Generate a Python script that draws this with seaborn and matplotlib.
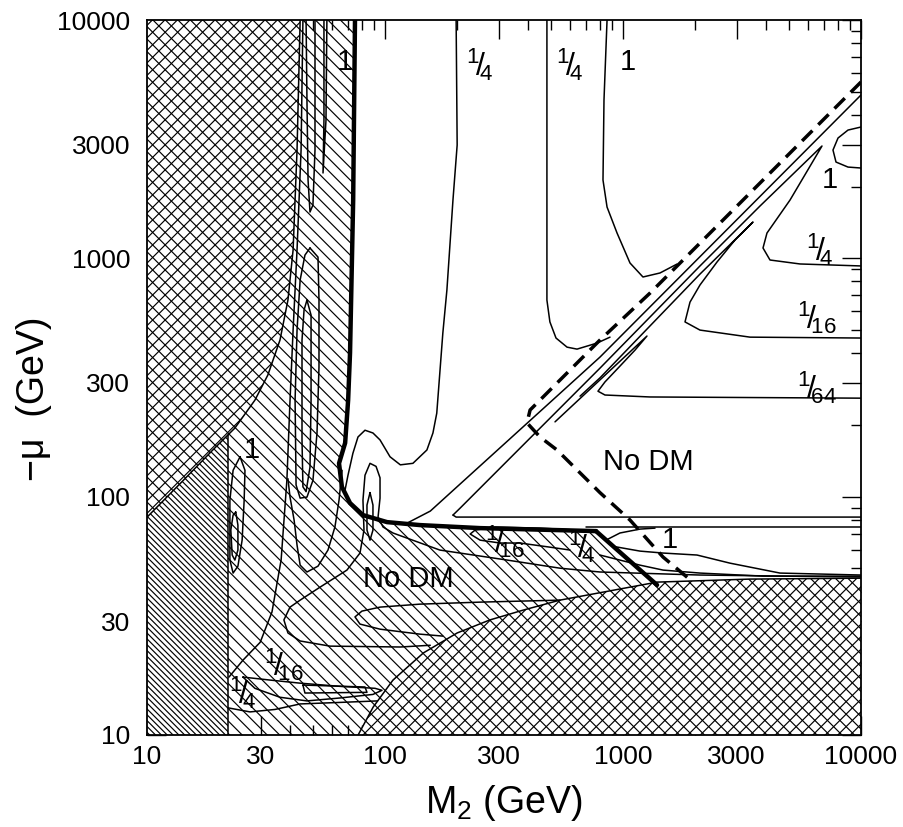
import numpy as np
import matplotlib
matplotlib.use("Agg")
import matplotlib.pyplot as plt
import seaborn as sns
from matplotlib.patches import Polygon
from matplotlib.collections import LineCollection
from matplotlib.ticker import FixedLocator, FixedFormatter, NullFormatter

# ------------------------------------------------------------------ data (GeV)
tick_values = [10, 30, 100, 300, 1000, 3000, 10000]
tick_labels = ["10", "30", "100", "300", "1000", "3000", "10000"]

# excluded (cross-hatched) regions
lep_ul_m2 = [44.0, 42.7, 41.1, 39.1, 36.2, 32.2, 28.4, 23.4, 18.9, 14.2, 10.0]
lep_ul_mu = [10000, 2847, 1084, 668, 454, 324, 254, 194, 157, 117, 82]
lep_lr_m2 = [77.1, 89.2, 108, 145, 201, 276, 380, 543, 1390, 3420, 10000]
lep_lr_mu = [10, 13.1, 17.0, 22.1, 26.8, 30.4, 33.4, 36.8, 43.8, 45.1, 45.5]
dense_m2 = [10, 21.9, 21.9, 18.9, 14.2, 10]
dense_mu = [10, 10, 182, 157, 117, 82]

# "No DM" boundary (thick)
nodm_m2 = [74.8, 73.5, 71.3, 70.0, 68.0, 64.1, 65.9, 71.3, 80.8, 102, 140, 251, 770]
nodm_mu = [10000, 1756, 401, 254, 168, 138, 110, 94.0, 83.7, 78.2, 76.0, 73.8, 71.7]
nodm_diag_m2 = [770, 1390]
nodm_diag_mu = [71.7, 42.6]

# dashed curve
dash_m2 = [10000, 1299, 800, 407, 395, 448, 528, 800, 1070, 1473, 1968]
dash_mu = [5494, 715, 454, 231, 204, 178, 157, 104, 79.8, 55.8, 43.8]

# contours in the allowed region
c_a14_m2 = [199, 201, 193, 182, 175, 165, 159, 150, 131, 116, 105, 95.3, 89.0, 82.4, 77.0, 73.3, 69.9, 68.0]
c_a14_mu = [10000, 2989, 1756, 736, 486, 224, 185, 157, 138, 136, 147, 173, 185, 190, 178, 152, 123, 107]
c_b14_m2 = [479, 479, 493, 523, 582, 641, 778, 882]
c_b14_mu = [10000, 668, 541, 463, 424, 416, 441, 467]
c_c1_m2 = [857, 832, 824, 857, 944, 1070, 1213, 1430, 1686]
c_c1_mu = [10000, 4615, 2131, 1641, 1277, 956, 835, 868, 946]
diag_m2 = [124, 155, 800, 10000]
diag_mu = [77.5, 87.0, 385, 4845]
w14_m2 = [193, 207, 800, 2106, 3765, 6856, 5032, 4027, 3875, 4146, 5543, 10000]
w14_mu = [83.7, 89.6, 346, 929, 1658, 2960, 1756, 1277, 1105, 984, 947, 929]
tri_m2 = [193, 199, 228, 10000]
tri_mu = [83.7, 82.1, 82.1, 82.1]
w16_m2 = [660, 800, 2106, 3517, 2956, 2483, 2106, 1912, 1822, 2106, 3418, 10000]
w16_mu = [264, 315, 859, 1420, 1194, 965, 773, 655, 541, 500, 467, 463]
w64_m2 = [518, 1261, 1123, 971, 840, 785, 840, 1299, 10000]
w64_mu = [206, 472, 412, 353, 303, 277, 267, 262, 259]
loop1_m2 = [10000, 8819, 8006, 7626, 7852, 8819, 10000]
loop1_mu = [3556, 3453, 3197, 2847, 2535, 2415, 2393]

# contours in the hatched region
u1_m2 = [46.6, 47.0, 47.5, 48.4, 49.8, 50.8, 50.8]
u1_mu = [10000, 4615, 2131, 1564, 1674, 2847, 10000]
u2_m2 = [55.4, 55.4, 54.9, 56.5, 57.0]
u2_mu = [10000, 3802, 2281, 3802, 10000]
la_m2 = [48.4, 52.3, 52.8, 52.8, 51.8, 49.8, 47.0, 44.0, 42.3, 41.9, 42.7, 44.0, 46.1, 48.4]
la_mu = [1105, 1012, 668, 350, 185, 117, 99.6, 98.6, 112, 254, 500, 811, 1032, 1105]
lb_m2 = [47.0, 48.9, 48.9, 48.4, 46.6, 45.2, 44.8, 44.8, 45.7, 47.0]
lb_mu = [668, 578, 254, 133, 105, 110, 173, 454, 607, 668]
s_m2 = [45.2, 44.4, 42.7, 41.1, 39.9, 38.7, 36.6, 33.5, 29.9, 25.3, 22.1]
s_mu = [10000, 2847, 1084, 500, 254, 117, 54.2, 32.8, 24.5, 20.6, 17.5]
j_m2 = [66.0, 64.1, 61.6, 57.6, 52.3, 47.0, 44.0, 42.7, 41.5, 39.9, 39.1]
j_mu = [129, 96.7, 74.6, 59.7, 51.1, 48.3, 51.6, 62.6, 79.8, 99.6, 119]
z_m2 = [155, 116, 58.7, 44.0, 39.1, 37.6, 39.9, 44.0, 53.3, 69.2, 78.5, 81.6, 80.8, 82.4, 86.5,
        91.7, 95.3, 95.3, 93.5, 98.1, 108, 170, 326, 544, 800, 2106, 10000]
z_mu = [23.8, 23.4, 23.6, 24.8, 26.8, 30.4, 34.4, 36.8, 41.7, 49.2, 58.0, 72.4, 96.7, 123, 138,
        134, 120, 98.6, 82.1, 74.6, 70.4, 59.7, 54.2, 50.1, 48.3, 46.9, 46.0]
zin_m2 = [86.5, 89.0, 89.0, 86.5, 84.0, 84.0, 86.5]
zin_mu = [104, 92.2, 72.4, 65.7, 72.4, 92.2, 104]
tongue_m2 = [544, 251, 140, 95.3, 80.0, 74.8, 78.5, 95.3, 140, 175]
tongue_mu = [36.8, 36.1, 35.4, 34.4, 33.1, 31.3, 29.2, 27.8, 26.5, 26.0]
lens_m2 = [25.3, 32.9, 44.0, 64.7, 90.8, 97.1, 89.0, 64.7, 47.0, 36.2, 28.4, 25.3]
lens_mu = [17.5, 17.0, 16.5, 16.0, 15.7, 15.4, 14.8, 14.3, 13.9, 14.4, 15.7, 17.5]
lensin_m2 = [45.2, 82.4, 84.0, 46.1, 45.2]
lensin_mu = [16.2, 15.9, 15.1, 15.0, 16.2]
bot_m2 = [21.9, 27.1, 34.5, 44.0, 64.7, 93.0]
bot_mu = [13.0, 12.5, 12.8, 13.5, 13.7, 13.9]
l1_m2 = [24.6, 25.8, 25.6, 25.1, 24.1, 23.0, 22.3, 22.3, 23.0, 24.6]
l1_mu = [147, 129, 96.7, 65.7, 51.1, 47.8, 54.2, 96.7, 129, 147]
l1b_m2 = [23.6, 24.1, 24.1, 23.4, 22.8, 22.5, 23.0, 23.6]
l1b_mu = [86.2, 76.0, 59.7, 54.2, 56.9, 72.4, 83.7, 86.2]
c16_m2 = [770, 448, 290, 239, 228, 251, 304, 369, 493, 599]
c16_mu = [71.7, 73.8, 74.6, 72.4, 69.7, 65.7, 63.9, 63.9, 61.4, 59.7]
c4_m2 = [800, 1179, 1473, 2106, 3875, 10000]
c4_mu = [56.9, 51.6, 49.2, 47.8, 46.4, 46.4]
c1a_m2 = [848, 971, 1179, 1363]
c1a_mu = [65.7, 70.4, 73.1, 73.8]
c1b_m2 = [899, 1179, 1473, 2046, 2817, 4568, 10000]
c1b_mu = [62.0, 59.1, 58.0, 56.9, 52.6, 47.8, 46.9]
thin_m2 = [700, 10000]
thin_mu = [74.6, 74.6]

# labels
lab_text = ["1", "1/4", "1/4", "1", "1", "1/4", "1/16", "1/64", "No DM", "No DM",
            "1/16", "1/4", "1", "1", "1/16", "1/4"]
lab_m2 = [67.9, 251, 599, 1050, 7408, 6730, 6533, 6533, 1274, 125, 319, 673, 1574, 27.6, 37.6, 25.3]
lab_mu = [6665, 6475, 6475, 6665, 2131, 1084, 562, 286, 140, 45.1, 64.5, 61.4, 65.7, 157, 19.7, 15.0]

# ------------------------------------------------------------------ style
sns.set_style("ticks", {"axes.edgecolor": "black", "xtick.color": "black", "ytick.color": "black",
                        "text.color": "black", "axes.labelcolor": "black"})
plt.rcParams["font.family"] = ["Liberation Sans", "DejaVu Sans"]
plt.rcParams["mathtext.fontset"] = "custom"
plt.rcParams["mathtext.rm"] = "Liberation Sans"
plt.rcParams["mathtext.it"] = "Liberation Sans"
plt.rcParams["mathtext.bf"] = "Liberation Sans:bold"
plt.rcParams["mathtext.default"] = "regular"

fig = plt.figure(figsize=(9.04, 8.27), dpi=100)
ax = fig.add_axes([147 / 904, 92 / 827, 714 / 904, 715 / 827])
ax.set_xscale("log")
ax.set_yscale("log")


def hatch_region(xs, ys, spacing, dirs, lw=0.85, z=1.0, face="none"):
    poly = Polygon(np.column_stack([xs, ys]), closed=True, transform=ax.transData,
                   facecolor=face, edgecolor="none", zorder=z)
    ax.add_patch(poly)
    segs = []
    lx = np.array([0.0, 5.0])
    for d in dirs:
        for c in np.arange(-6, 12, spacing):
            ly = c - lx if d > 0 else c + lx
            segs.append(np.column_stack([10 ** lx, 10 ** ly]))
    lc = LineCollection(segs, colors="black", linewidths=lw, zorder=z + 0.05,
                        transform=ax.transData)
    ax.add_collection(lc, autolim=False)
    lc.set_clip_path(poly)


# hatched "No DM" region (single hatch)
sp_x = [10] + nodm_m2 + [nodm_diag_m2[1], nodm_diag_m2[1], 10]
sp_y = [10000] + nodm_mu + [nodm_diag_mu[1], 10, 10]
hatch_region(sp_x, sp_y, 0.0525, [1], z=1.0)
# cross-hatched excluded regions
hatch_region([10] + lep_ul_m2, [10000] + lep_ul_mu, 0.0525, [1, -1], z=2.0, face="white")
hatch_region(lep_lr_m2 + [10000], lep_lr_mu + [10], 0.0525, [1, -1], z=2.0, face="white")
# dense hatch
hatch_region(dense_m2, dense_mu, 0.0245, [1], z=2.0, face="white")


def curve(xs, ys, lw=1.0, z=3, **kw):
    sns.lineplot(x=xs, y=ys, sort=False, estimator=None, color="black",
                 linewidth=lw, ax=ax, zorder=z, **kw)


# region boundaries
curve(lep_ul_m2, lep_ul_mu, lw=1.1)
curve(lep_lr_m2, lep_lr_mu, lw=1.1)
curve([dense_m2[1], dense_m2[2]], [dense_mu[1], dense_mu[2]], lw=1.1)

# thin contours
for xs, ys in [(c_a14_m2, c_a14_mu), (c_b14_m2, c_b14_mu), (c_c1_m2, c_c1_mu),
               (diag_m2, diag_mu), (w14_m2, w14_mu), (tri_m2, tri_mu),
               (w16_m2, w16_mu), (w64_m2, w64_mu), (loop1_m2, loop1_mu),
               (u1_m2, u1_mu), (u2_m2, u2_mu), (la_m2, la_mu), (lb_m2, lb_mu),
               (s_m2, s_mu), (j_m2, j_mu), (z_m2, z_mu), (zin_m2, zin_mu),
               (tongue_m2, tongue_mu), (lens_m2, lens_mu), (lensin_m2, lensin_mu),
               (bot_m2, bot_mu), (l1_m2, l1_mu), (l1b_m2, l1b_mu),
               (c16_m2, c16_mu), (c4_m2, c4_mu), (c1a_m2, c1a_mu), (c1b_m2, c1b_mu),
               (thin_m2, thin_mu)]:
    curve(xs, ys, lw=1.1)

# thick No-DM boundary and dashed curve
curve(nodm_m2, nodm_mu, lw=3.2, z=4)
curve(nodm_diag_m2, nodm_diag_mu, lw=3.2, z=4)
curve(dash_m2, dash_mu, lw=2.5, z=4, linestyle=(0, (4.2, 2.4)))


def fmt(t):
    if "/" in t:
        n, d = t.split("/")
        return r"$^{%s}\!/\!_{%s}$" % (n, d)
    return t


for t, x, y in zip(lab_text, lab_m2, lab_mu):
    size = 21 if t == "No DM" else (23 if "/" in t else 21)
    ax.text(x, y, fmt(t), ha="center", va="center", fontsize=size, zorder=6)

# axes
ax.set_xlim(10, 10000)
ax.set_ylim(10, 10000)
minors = [m * 10 ** e for e in (1, 2, 3) for m in (2, 4, 5, 6, 7, 8, 9)]
for axis in (ax.xaxis, ax.yaxis):
    axis.set_major_locator(FixedLocator(tick_values))
    axis.set_major_formatter(FixedFormatter(tick_labels))
    axis.set_minor_locator(FixedLocator(minors))
    axis.set_minor_formatter(NullFormatter())
ax.tick_params(which="both", direction="in", top=True, right=True, width=1.0)
ax.tick_params(which="major", length=14, labelsize=19)
ax.tick_params(which="minor", length=7.5)
ax.tick_params(axis="x", which="major", pad=7)
ax.tick_params(axis="y", which="major", pad=12)
for sp in ax.spines.values():
    sp.set_linewidth(1.3)
    sp.set_zorder(7)

ax.set_xlabel(r"M$_2$ (GeV)", fontsize=27, labelpad=10)
ax.set_ylabel("−μ  (GeV)", fontsize=27)
ax.yaxis.set_label_coords(-0.133, 0.47)

fig.savefig("out.png", dpi=100)
